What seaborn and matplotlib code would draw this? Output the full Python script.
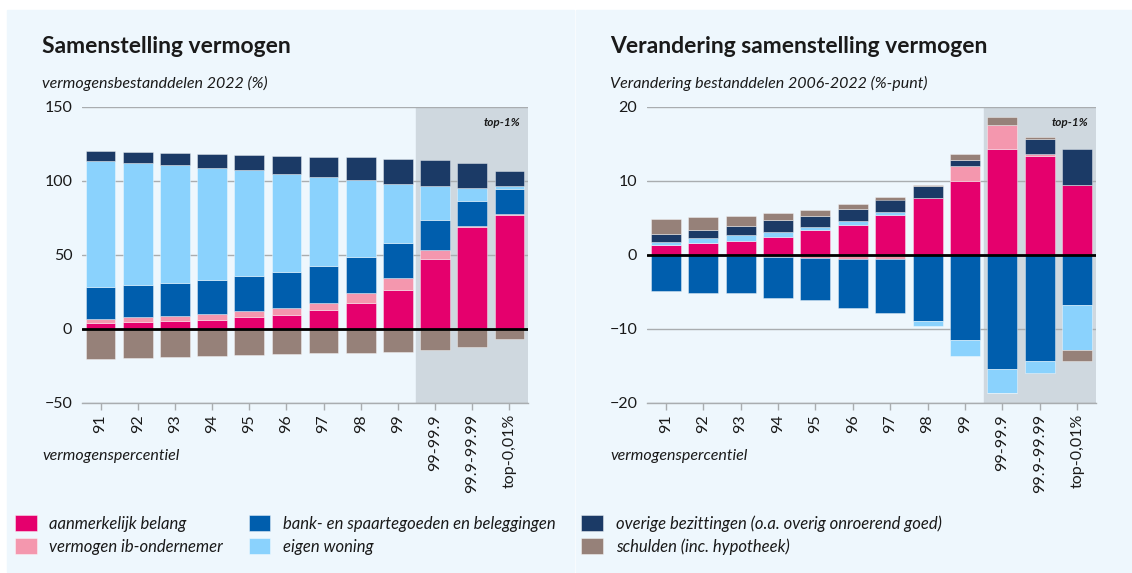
import numpy as np
import seaborn as sns
import matplotlib.pyplot as plt
from matplotlib.patches import Patch, Rectangle

# categorieen (vermogenspercentielen)
percentielen = ['91', '92', '93', '94', '95', '96', '97', '98', '99',
                '99-99.9', '99.9-99.99', 'top-0,01%']

# samenstelling vermogen 2022 (%)
aanmerkelijk_2022 = [3.8, 4.5, 5.4, 6.3, 7.9, 9.5, 12.6, 17.6, 26.1, 47.1, 68.7, 77.0]
ib_ondernemer_2022 = [3.0, 3.4, 3.4, 3.8, 4.0, 4.7, 5.2, 6.5, 8.1, 6.5, 0.9, 0.5]
bank_2022 = [21.6, 21.6, 22.3, 22.8, 23.7, 24.3, 25.0, 24.8, 23.7, 20.0, 17.1, 17.4]
woning_2022 = [84.9, 82.4, 79.5, 75.9, 71.6, 66.5, 60.1, 51.6, 40.3, 22.8, 8.6, 1.8]
overig_2022 = [7.0, 7.5, 8.3, 9.2, 10.1, 11.7, 13.5, 15.5, 16.9, 17.6, 16.9, 10.3]
schulden_2022 = [-20.5, -19.4, -18.7, -18.2, -17.6, -16.9, -16.4, -16.4, -15.3, -14.2, -12.4, -6.8]

# verandering 2006-2022 (%-punt)
aanmerkelijk_delta = [1.3, 1.6, 1.9, 2.4, 3.4, 4.0, 5.4, 7.75, 10.0, 14.3, 13.4, 9.4]
ib_ondernemer_delta = [0.0, 0.0, -0.15, -0.25, -0.4, -0.5, -0.6, 0.0, 2.0, 3.3, 0.3, 0.0]
bank_delta = [-4.8, -5.1, -5.05, -5.55, -5.7, -6.6, -7.3, -8.9, -11.5, -15.45, -14.3, -6.7]
woning_delta = [0.5, 0.7, 0.8, 0.7, 0.4, 0.65, 0.4, -0.7, -2.1, -3.15, -1.7, -6.1]
overig_delta = [1.1, 1.1, 1.2, 1.6, 1.5, 1.6, 1.7, 1.55, 0.8, -0.1, 2.0, 4.9]
schulden_delta = [1.9, 1.7, 1.4, 1.0, 0.8, 0.7, 0.4, 0.2, 0.8, 1.0, 0.2, -1.5]

labels = ['aanmerkelijk belang', 'vermogen ib-ondernemer',
          'bank- en spaartegoeden en beleggingen', 'eigen woning',
          'overige bezittingen (o.a. overig onroerend goed)', 'schulden (inc. hypotheek)']
kleuren = ['#E5006D', '#F497AE', '#005EAD', '#8AD2FD', '#1B3A66', '#968179']

PANEEL = '#EEF7FD'
GRIJS = '#A9ADB0'
TEKST = '#1a1a1a'

sns.set_theme(style='white')
plt.rcParams['font.family'] = ['Lato', 'DejaVu Sans']

W, H = 1132, 573
fig = plt.figure(figsize=(W / 100, H / 100), dpi=100, facecolor='white')

# achtergrondpanelen
fig.patches.append(Rectangle((7 / W, 1 - 572 / H), (574 - 7) / W, (572 - 10) / H,
                             transform=fig.transFigure, color=PANEEL, zorder=-1))
fig.patches.append(Rectangle((576 / W, 1 - 572 / H), (1132 - 576) / W, (572 - 10) / H,
                             transform=fig.transFigure, color=PANEEL, zorder=-1))


def gestapeld(ax, reeksen):
    # positieve delen omhoog, negatieve delen omlaag stapelen
    pos = np.zeros(len(percentielen))
    neg = np.zeros(len(percentielen))
    for waarden, kleur in zip(reeksen, kleuren):
        w = np.array(waarden, dtype=float)
        onder = np.where(w >= 0, pos, neg)
        sns.barplot(x=percentielen, y=w, order=percentielen, color=kleur, saturation=1,
                    width=0.8, bottom=onder, errorbar=None, ax=ax,
                    edgecolor=(1, 1, 1, 0.45), linewidth=0.6, zorder=2)
        pos += np.where(w >= 0, w, 0)
        neg += np.where(w < 0, w, 0)


def opmaak(ax, ylim, yticks):
    ax.set_facecolor(PANEEL)
    ax.patch.set_alpha(0)
    ax.set_xlim(-0.5, len(percentielen) - 0.5)
    ax.set_ylim(*ylim)
    ax.set_yticks(yticks)
    ax.axvspan(8.5, len(percentielen) - 0.5, color='#CFD8DF', zorder=0)
    ax.set_axisbelow(True)
    ax.yaxis.grid(True, color=GRIJS, linewidth=1)
    ax.axhline(0, color='black', linewidth=2, zorder=4)
    for s in ['left', 'right', 'top']:
        ax.spines[s].set_visible(False)
    ax.spines['bottom'].set_color(GRIJS)
    ax.spines['bottom'].set_linewidth(1)
    ax.tick_params(axis='y', length=0, pad=7, labelsize=11.5, labelcolor=TEKST)
    ax.tick_params(axis='x', length=5, width=1, color=GRIJS, pad=3, labelsize=11.5,
                   labelcolor=TEKST, labelrotation=90, bottom=True)
    ax.set_xlabel('')
    ax.set_ylabel('')
    ax.text(0.982, 0.966, 'top-1%', transform=ax.transAxes, ha='right', va='top',
            fontsize=8.5, fontweight='bold', fontstyle='italic', color=TEKST)


ax1 = fig.add_axes([82 / W, 1 - 403 / H, (528 - 82) / W, (403 - 107) / H])
gestapeld(ax1, [aanmerkelijk_2022, ib_ondernemer_2022, bank_2022,
                woning_2022, overig_2022, schulden_2022])
opmaak(ax1, (-50, 150), [-50, 0, 50, 100, 150])

ax2 = fig.add_axes([647 / W, 1 - 403 / H, (1096 - 647) / W, (403 - 107) / H])
gestapeld(ax2, [aanmerkelijk_delta, ib_ondernemer_delta, bank_delta,
                woning_delta, overig_delta, schulden_delta])
opmaak(ax2, (-20, 20), [-20, -10, 0, 10, 20])

# titels
fig.text(42 / W, 1 - 53 / H, 'Samenstelling vermogen', fontsize=16.5, fontweight='bold',
         color=TEKST, va='baseline')
fig.text(42 / W, 1 - 88 / H, 'vermogensbestanddelen 2022 (%)', fontsize=11.5,
         fontstyle='italic', color=TEKST, va='baseline')
fig.text(610 / W, 1 - 53 / H, 'Verandering samenstelling vermogen', fontsize=16.5,
         fontweight='bold', color=TEKST, va='baseline')
fig.text(610 / W, 1 - 88 / H, 'Verandering bestanddelen 2006-2022 (%-punt)', fontsize=11.5,
         fontstyle='italic', color=TEKST, va='baseline')
fig.text(42 / W, 1 - 460 / H, 'vermogenspercentiel', fontsize=11.5, fontstyle='italic',
         color=TEKST, va='baseline')
fig.text(610 / W, 1 - 460 / H, 'vermogenspercentiel', fontsize=11.5, fontstyle='italic',
         color=TEKST, va='baseline')

# legenda
handles = [Patch(facecolor=k, edgecolor=(1, 1, 1, 0.5), linewidth=0.6) for k in kleuren]
leg = fig.legend(handles, labels, ncol=3, loc='upper left',
                 bbox_to_anchor=(15 / W, 1 - 515 / H), frameon=False,
                 prop={'family': 'Lato', 'style': 'italic', 'size': 12},
                 handlelength=1.3, handleheight=1.1, handletextpad=0.75,
                 columnspacing=1.55, labelspacing=0.4, borderpad=0, borderaxespad=0)
for t in leg.get_texts():
    t.set_color(TEKST)

fig.savefig('out.png', dpi=100, facecolor='white')
